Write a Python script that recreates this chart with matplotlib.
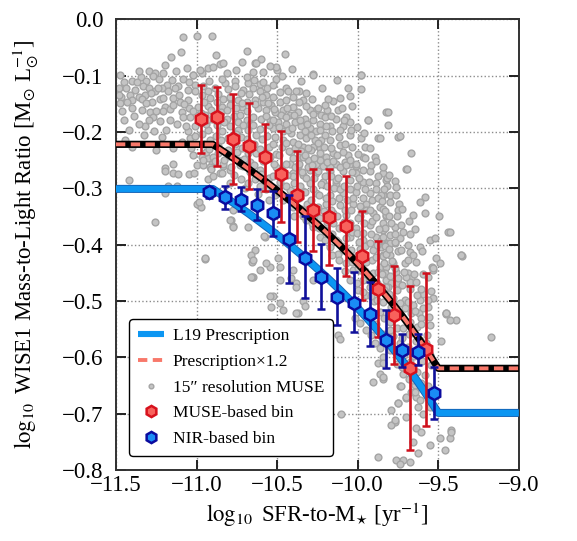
import numpy as np
import matplotlib
matplotlib.use("Agg")
import matplotlib.pyplot as plt
import matplotlib.patheffects as pe
from matplotlib.lines import Line2D
from matplotlib.ticker import FuncFormatter

plt.rcParams["font.family"] = ["Liberation Serif", "DejaVu Serif"]
plt.rcParams["mathtext.fontset"] = "stix"

# L19 prescription knots (log sSFR, linear M/L); the x1.2 curve scales these
presc_ssfr = [-11.5, -10.9, -9.5, -9.0]
presc_ml = [0.5, 0.5, 0.2, 0.2]
presc_scale = 1.2

# 15" resolution MUSE pixels (log sSFR, log M/L)
muse_points = [
    (-11.085, -0.031), (-10.998, -0.029), (-10.901, -0.029), (-11.095, -0.057), (-11.157, -0.066),
    (-10.688, -0.056), (-10.719, -0.076), (-10.857, -0.080), (-10.930, -0.087), (-10.967, -0.095),
    (-11.020, -0.099), (-11.298, -0.091), (-11.256, -0.096), (-11.211, -0.095), (-11.343, -0.102),
    (-11.314, -0.109), (-11.273, -0.100), (-11.236, -0.106), (-11.153, -0.108), (-11.085, -0.105),
    (-11.045, -0.112), (-11.008, -0.117), (-11.112, -0.118), (-11.184, -0.116), (-11.401, -0.109),
    (-11.453, -0.111), (-11.484, -0.122), (-11.438, -0.122), (-11.384, -0.125), (-11.335, -0.118),
    (-11.298, -0.122), (-11.256, -0.127), (-11.215, -0.122), (-11.318, -0.134), (-11.360, -0.137),
    (-11.411, -0.134), (-11.467, -0.138), (-11.473, -0.149), (-11.401, -0.143), (-11.339, -0.142),
    (-11.277, -0.146), (-11.225, -0.142), (-11.143, -0.140), (-11.101, -0.146), (-11.050, -0.143),
    (-11.008, -0.128), (-10.967, -0.134), (-10.915, -0.140), (-10.864, -0.132), (-10.822, -0.113),
    (-10.760, -0.110), (-10.709, -0.125), (-10.678, -0.113), (-10.791, -0.140), (-10.740, -0.143),
    (-10.688, -0.146), (-11.194, -0.155), (-11.211, -0.162), (-11.163, -0.160), (-11.091, -0.164),
    (-11.045, -0.158), (-10.992, -0.156), (-10.926, -0.154), (-10.843, -0.156), (-10.791, -0.152),
    (-10.719, -0.156), (-11.287, -0.164), (-11.273, -0.173), (-11.081, -0.173), (-11.039, -0.174),
    (-10.946, -0.170), (-10.905, -0.177), (-10.812, -0.177), (-10.740, -0.182), (-10.688, -0.179),
    (-11.318, -0.190), (-11.215, -0.208), (-11.050, -0.199), (-11.008, -0.190), (-10.926, -0.196),
    (-10.843, -0.199), (-10.740, -0.196), (-10.678, -0.196), (-11.442, -0.214), (-11.039, -0.211),
    (-10.967, -0.244), (-10.926, -0.247), (-10.864, -0.238), (-10.802, -0.232), (-10.905, -0.256),
    (-10.833, -0.261), (-10.998, -0.258), (-10.957, -0.258), (-11.143, -0.256), (-11.194, -0.264),
    (-10.740, -0.250), (-10.709, -0.261), (-10.678, -0.238),
    (-10.638, -0.077), (-10.597, -0.071), (-10.586, -0.093), (-10.508, -0.105), (-10.499, -0.090),
    (-10.276, -0.097), (-9.977, -0.099), (-9.981, -0.124), (-10.363, -0.127), (-10.152, -0.145),
    (-10.111, -0.139), (-10.049, -0.136), (-10.032, -0.154), (-10.256, -0.161), (-10.225, -0.170),
    (-10.189, -0.161), (-10.204, -0.174), (-10.132, -0.177), (-10.070, -0.174), (-10.049, -0.183),
    (-10.090, -0.190), (-10.173, -0.189), (-10.111, -0.196), (-10.049, -0.205), (-9.935, -0.179),
    (-9.977, -0.211), (-9.956, -0.226), (-9.873, -0.211), (-9.822, -0.164), (-9.894, -0.244),
    (-9.966, -0.245), (-10.152, -0.238), (-10.111, -0.223), (-10.059, -0.241), (-10.049, -0.256),
    (-10.008, -0.261), (-10.225, -0.214), (-10.276, -0.226), (-10.194, -0.244), (-10.132, -0.256),
    (-10.080, -0.253),
    (-10.648, -0.122), (-10.607, -0.128), (-10.566, -0.134), (-10.524, -0.137), (-10.638, -0.143),
    (-10.586, -0.146), (-10.535, -0.152), (-10.483, -0.146), (-10.442, -0.143), (-10.400, -0.155),
    (-10.617, -0.158), (-10.566, -0.161), (-10.514, -0.164), (-10.462, -0.161), (-10.421, -0.170),
    (-10.369, -0.164), (-10.328, -0.176), (-10.276, -0.179), (-10.648, -0.173), (-10.597, -0.176),
    (-10.545, -0.179), (-10.493, -0.182), (-10.442, -0.185), (-10.390, -0.182), (-10.349, -0.190),
    (-10.297, -0.193), (-10.256, -0.199), (-10.524, -0.193), (-10.462, -0.199), (-10.411, -0.202),
    (-10.359, -0.205), (-10.318, -0.211), (-10.266, -0.214), (-10.462, -0.214), (-10.400, -0.217),
    (-10.338, -0.226), (-10.287, -0.232), (-10.235, -0.229), (-10.411, -0.235), (-10.359, -0.244),
    (-10.307, -0.250), (-10.256, -0.256), (-10.214, -0.261), (-10.421, -0.256), (-10.369, -0.261),
    (-10.173, -0.214), (-10.204, -0.205), (-10.235, -0.185), (-10.297, -0.161), (-10.338, -0.143),
    (-10.400, -0.273), (-10.338, -0.276), (-10.256, -0.273), (-10.173, -0.270), (-10.090, -0.270),
    (-10.008, -0.273), (-9.925, -0.270), (-9.842, -0.273), (-10.297, -0.291), (-10.214, -0.288),
    (-10.132, -0.291), (-10.049, -0.285), (-9.966, -0.288), (-9.884, -0.291), (-9.822, -0.285),
    (-10.256, -0.309), (-10.173, -0.312), (-10.090, -0.309), (-10.008, -0.306), (-9.925, -0.309),
    (-9.842, -0.312), (-10.194, -0.327), (-10.111, -0.330), (-10.028, -0.327), (-9.946, -0.327),
    (-9.863, -0.333), (-10.152, -0.344), (-10.070, -0.347), (-9.987, -0.350), (-9.904, -0.344),
    (-9.822, -0.350), (-10.090, -0.368), (-10.008, -0.371), (-9.925, -0.365), (-9.842, -0.374),
    (-10.049, -0.386), (-9.966, -0.392), (-9.884, -0.386), (-9.822, -0.398), (-9.987, -0.407),
    (-9.904, -0.410), (-9.842, -0.418), (-9.946, -0.430), (-9.863, -0.439), (-9.904, -0.451),
    (-9.822, -0.463), (-9.842, -0.475),
    (-10.462, -0.321), (-10.400, -0.333), (-10.338, -0.350), (-10.276, -0.368), (-10.235, -0.386),
    (-10.173, -0.404), (-10.121, -0.416), (-10.070, -0.433), (-10.028, -0.445), (-9.966, -0.463),
    (-9.925, -0.475), (-10.421, -0.303), (-10.359, -0.315), (-10.307, -0.339), (-10.256, -0.356),
    (-10.194, -0.374), (-10.132, -0.392), (-10.090, -0.410), (-10.049, -0.421), (-9.987, -0.445),
    (-10.638, -0.410), (-10.576, -0.386), (-10.607, -0.445), (-10.648, -0.457), (-10.545, -0.439),
    (-10.493, -0.424), (-10.483, -0.463), (-10.524, -0.492), (-10.535, -0.510), (-10.380, -0.469),
    (-10.400, -0.445), (-10.276, -0.463), (-10.338, -0.501), (-10.369, -0.522), (-10.462, -0.516),
    (-10.659, -0.418),
    (-11.422, -0.286), (-11.194, -0.308), (-11.178, -0.296), (-11.122, -0.296), (-10.998, -0.327),
    (-10.971, -0.334), (-11.260, -0.359), (-10.946, -0.426), (-10.785, -0.356), (-10.771, -0.367),
    (-10.678, -0.368), (-10.657, -0.430), (-10.657, -0.457), (-11.194, -0.270), (-11.143, -0.273),
    (-11.112, -0.275), (-11.045, -0.275), (-10.926, -0.284), (-10.895, -0.278),
    (-11.016, -0.273), (-10.983, -0.324), (-10.793, -0.356), (-10.776, -0.369), (-10.582, -0.385),
    (-10.648, -0.427), (-10.948, -0.424), (-10.659, -0.457), (-10.570, -0.433), (-10.483, -0.439),
    (-10.411, -0.460), (-10.380, -0.475), (-10.541, -0.491), (-10.483, -0.504), (-10.380, -0.522),
    (-10.328, -0.509), (-10.772, -0.339),
    (-11.020, -0.241), (-10.958, -0.250), (-10.896, -0.244), (-10.834, -0.256), (-10.772, -0.241),
    (-10.731, -0.259), (-10.669, -0.253), (-10.607, -0.268), (-10.545, -0.244), (-10.504, -0.262),
    (-10.442, -0.256), (-10.400, -0.279), (-10.338, -0.244), (-10.297, -0.268), (-10.235, -0.250),
    (-10.173, -0.262), (-10.132, -0.285), (-10.917, -0.262), (-10.855, -0.273), (-10.793, -0.268),
    (-10.790, -0.290), (-10.700, -0.300), (-10.620, -0.310), (-10.550, -0.320), (-10.500, -0.300),
    (-11.020, -0.099), (-10.979, -0.090), (-10.896, -0.084), (-10.834, -0.078), (-10.628, -0.078),
    (-10.504, -0.084), (-10.380, -0.128), (-10.276, -0.099), (-10.131, -0.108), (-9.976, -0.099),
    (-9.811, -0.164), (-9.935, -0.179), (-9.863, -0.211), (-9.749, -0.208), (-9.697, -0.265),
    (-9.584, -0.315), (-9.439, -0.377), (-9.356, -0.418), (-9.511, -0.424), (-9.615, -0.404),
    (-9.811, -0.188), (-9.739, -0.207), (-9.671, -0.238), (-9.693, -0.265), (-9.818, -0.281),
    (-9.770, -0.287), (-9.818, -0.296), (-9.764, -0.297), (-9.853, -0.312), (-9.801, -0.324),
    (-9.743, -0.328), (-9.749, -0.339), (-9.842, -0.336), (-9.822, -0.347), (-9.656, -0.347),
    (-9.615, -0.324), (-9.584, -0.344), (-9.495, -0.350), (-9.429, -0.377), (-9.350, -0.420),
    (-9.553, -0.391), (-9.522, -0.388), (-9.842, -0.362), (-9.832, -0.371), (-9.770, -0.368),
    (-9.729, -0.365), (-9.801, -0.383), (-9.739, -0.389), (-9.853, -0.392), (-9.811, -0.398),
    (-9.770, -0.398), (-9.687, -0.401), (-9.677, -0.413), (-9.656, -0.418), (-9.801, -0.418),
    (-9.842, -0.421), (-9.822, -0.439), (-9.780, -0.433), (-9.708, -0.433), (-9.832, -0.451),
    (-9.760, -0.448), (-9.687, -0.451), (-9.667, -0.460), (-9.677, -0.466), (-9.739, -0.472),
    (-9.791, -0.469), (-9.487, -0.432), (-9.538, -0.439), (-9.532, -0.445), (-9.543, -0.482),
    (-9.532, -0.495), (-9.563, -0.498), (-9.450, -0.524), (-9.619, -0.522), (-9.708, -0.498),
    (-9.811, -0.475),
    (-10.121, -0.561), (-10.111, -0.567), (-10.018, -0.531), (-9.987, -0.540), (-9.946, -0.552),
    (-9.915, -0.561), (-9.894, -0.575), (-9.863, -0.584), (-9.842, -0.599), (-9.873, -0.611),
    (-9.863, -0.629), (-9.842, -0.638), (-9.904, -0.644), (-9.739, -0.652), (-9.749, -0.682),
    (-9.698, -0.673), (-9.667, -0.661), (-9.636, -0.670), (-9.625, -0.688), (-9.646, -0.649),
    (-9.584, -0.632), (-9.543, -0.614), (-9.574, -0.575), (-9.553, -0.543), (-9.449, -0.522),
    (-9.481, -0.572), (-9.419, -0.729), (-9.429, -0.744), (-9.491, -0.744), (-9.553, -0.756),
    (-9.636, -0.726), (-9.656, -0.750), (-9.625, -0.771), (-9.677, -0.786), (-9.718, -0.783),
    (-9.760, -0.783), (-9.739, -0.789), (-9.770, -0.715), (-9.791, -0.720), (-9.873, -0.777),
    (-10.101, -0.700), (-9.171, -0.564), (-9.460, -0.765), (-9.388, -0.534),
    (-9.853, -0.404), (-9.801, -0.398), (-9.822, -0.416), (-9.770, -0.395), (-9.698, -0.457),
    (-9.636, -0.466), (-9.749, -0.469), (-9.822, -0.475), (-9.532, -0.442), (-9.594, -0.487),
    (-9.615, -0.498), (-9.563, -0.510), (-9.656, -0.507), (-9.739, -0.504), (-9.780, -0.495),
    (-9.605, -0.531), (-9.677, -0.537), (-9.780, -0.563), (-9.853, -0.563), (-9.615, -0.569),
    (-9.739, -0.575), (-9.801, -0.587), (-9.842, -0.635), (-9.718, -0.629), (-9.656, -0.640),
    (-9.698, -0.670), (-9.615, -0.676), (-9.749, -0.682), (-9.791, -0.694), (-9.594, -0.700),
    (-9.698, -0.706), (-9.770, -0.712), (-9.419, -0.732), (-9.605, -0.732), (-9.450, -0.522),
    (-9.429, -0.534), (-9.357, -0.418), (-9.842, -0.611), (-9.729, -0.652),
    (-9.900, -0.500), (-9.860, -0.520), (-9.950, -0.490), (-10.000, -0.480),
    # dense core of the sequence
    (-10.962, -0.118), (-10.951, -0.146), (-10.973, -0.167), (-10.944, -0.185), (-10.968, -0.203),
    (-10.955, -0.222), (-10.941, -0.236), (-10.921, -0.109), (-10.928, -0.128), (-10.913, -0.161),
    (-10.934, -0.179), (-10.917, -0.214), (-10.925, -0.231), (-10.909, -0.266), (-10.884, -0.121),
    (-10.872, -0.147), (-10.889, -0.169), (-10.876, -0.188), (-10.881, -0.207), (-10.869, -0.224),
    (-10.886, -0.252), (-10.843, -0.106), (-10.836, -0.141), (-10.848, -0.165), (-10.831, -0.183),
    (-10.845, -0.215), (-10.827, -0.249), (-10.839, -0.272), (-10.803, -0.124), (-10.795, -0.137),
    (-10.808, -0.161), (-10.792, -0.190), (-10.806, -0.211), (-10.798, -0.243), (-10.788, -0.262),
    (-10.764, -0.119), (-10.757, -0.158), (-10.769, -0.172), (-10.752, -0.203), (-10.761, -0.221),
    (-10.748, -0.235), (-10.766, -0.276), (-10.723, -0.131), (-10.716, -0.148), (-10.729, -0.169),
    (-10.712, -0.188), (-10.725, -0.209), (-10.718, -0.228), (-10.707, -0.248), (-10.721, -0.283),
    (-10.684, -0.102), (-10.676, -0.133), (-10.689, -0.162), (-10.671, -0.185), (-10.686, -0.213),
    (-10.679, -0.226), (-10.668, -0.271), (-10.682, -0.291), (-10.643, -0.108), (-10.636, -0.151),
    (-10.648, -0.188), (-10.632, -0.205), (-10.645, -0.221), (-10.629, -0.238), (-10.641, -0.259),
    (-10.634, -0.284), (-10.603, -0.115), (-10.596, -0.138), (-10.607, -0.195), (-10.592, -0.212),
    (-10.604, -0.231), (-10.589, -0.251), (-10.598, -0.274), (-10.608, -0.296), (-10.562, -0.121),
    (-10.557, -0.149), (-10.567, -0.171), (-10.552, -0.188), (-10.564, -0.207), (-10.549, -0.226),
    (-10.559, -0.247), (-10.553, -0.281), (-10.566, -0.301), (-10.523, -0.116), (-10.516, -0.159),
    (-10.528, -0.179), (-10.512, -0.208), (-10.525, -0.221), (-10.509, -0.239), (-10.519, -0.256),
    (-10.527, -0.279), (-10.514, -0.311), (-10.484, -0.129), (-10.476, -0.169), (-10.488, -0.191),
    (-10.472, -0.226), (-10.486, -0.241), (-10.469, -0.268), (-10.479, -0.289), (-10.487, -0.308),
    (-10.443, -0.121), (-10.436, -0.157), (-10.447, -0.173), (-10.432, -0.196), (-10.445, -0.219),
    (-10.429, -0.234), (-10.439, -0.277), (-10.447, -0.296), (-10.433, -0.316), (-10.402, -0.138),
    (-10.395, -0.169), (-10.407, -0.193), (-10.391, -0.229), (-10.404, -0.247), (-10.388, -0.262),
    (-10.398, -0.291), (-10.406, -0.312), (-10.393, -0.349), (-10.363, -0.146), (-10.356, -0.178),
    (-10.368, -0.221), (-10.352, -0.233), (-10.365, -0.256), (-10.348, -0.271), (-10.358, -0.296),
    (-10.367, -0.318), (-10.354, -0.336), (-10.322, -0.153), (-10.315, -0.186), (-10.327, -0.199),
    (-10.311, -0.229), (-10.324, -0.241), (-10.308, -0.262), (-10.318, -0.281), (-10.326, -0.306),
    (-10.313, -0.328), (-10.321, -0.357), (-10.283, -0.141), (-10.276, -0.168), (-10.288, -0.206),
    (-10.272, -0.247), (-10.285, -0.259), (-10.269, -0.281), (-10.279, -0.301), (-10.287, -0.321),
    (-10.274, -0.343), (-10.282, -0.362), (-10.243, -0.158), (-10.236, -0.196), (-10.248, -0.219),
    (-10.232, -0.238), (-10.245, -0.269), (-10.229, -0.293), (-10.239, -0.311), (-10.247, -0.334),
    (-10.234, -0.352), (-10.242, -0.371), (-10.202, -0.152), (-10.195, -0.189), (-10.207, -0.226),
    (-10.191, -0.253), (-10.204, -0.279), (-10.188, -0.296), (-10.198, -0.318), (-10.206, -0.341),
    (-10.193, -0.359), (-10.201, -0.392), (-10.163, -0.171), (-10.156, -0.199), (-10.168, -0.229),
    (-10.152, -0.251), (-10.165, -0.278), (-10.148, -0.299), (-10.158, -0.322), (-10.167, -0.339),
    (-10.154, -0.361), (-10.162, -0.381), (-10.157, -0.418), (-10.122, -0.161), (-10.115, -0.208),
    (-10.127, -0.241), (-10.111, -0.262), (-10.124, -0.281), (-10.108, -0.302), (-10.118, -0.318),
    (-10.126, -0.349), (-10.113, -0.371), (-10.121, -0.396), (-10.116, -0.428), (-10.083, -0.179),
    (-10.076, -0.221), (-10.088, -0.236), (-10.072, -0.259), (-10.085, -0.296), (-10.069, -0.321),
    (-10.079, -0.338), (-10.087, -0.359), (-10.074, -0.389), (-10.082, -0.402), (-10.077, -0.446),
    (-10.043, -0.196), (-10.036, -0.226), (-10.048, -0.249), (-10.032, -0.271), (-10.045, -0.301),
    (-10.029, -0.318), (-10.039, -0.339), (-10.047, -0.362), (-10.034, -0.378), (-10.042, -0.409),
    (-10.037, -0.431), (-10.045, -0.462), (-10.002, -0.191), (-9.995, -0.239), (-10.007, -0.256),
    (-9.991, -0.281), (-10.004, -0.296), (-9.988, -0.331), (-9.998, -0.352), (-10.006, -0.379),
    (-9.993, -0.396), (-10.001, -0.421), (-9.996, -0.442), (-10.004, -0.468), (-9.963, -0.202),
    (-9.956, -0.246), (-9.968, -0.268), (-9.952, -0.301), (-9.965, -0.318), (-9.948, -0.339),
    (-9.958, -0.361), (-9.967, -0.379), (-9.954, -0.402), (-9.962, -0.418), (-9.957, -0.446),
    (-9.965, -0.484), (-9.922, -0.229), (-9.915, -0.258), (-9.927, -0.288), (-9.911, -0.321),
    (-9.924, -0.339), (-9.908, -0.358), (-9.918, -0.381), (-9.926, -0.398), (-9.913, -0.428),
    (-9.921, -0.463), (-9.916, -0.492), (-9.924, -0.521), (-9.883, -0.251), (-9.876, -0.279),
    (-9.888, -0.302), (-9.872, -0.318), (-9.885, -0.351), (-9.869, -0.372), (-9.879, -0.401),
    (-9.887, -0.422), (-9.874, -0.448), (-9.882, -0.469), (-9.877, -0.498), (-9.885, -0.541),
    (-9.843, -0.262), (-9.836, -0.301), (-9.848, -0.323), (-9.832, -0.341), (-9.845, -0.386),
    (-9.829, -0.402), (-9.839, -0.432), (-9.847, -0.452), (-9.834, -0.481), (-9.842, -0.502),
    (-9.837, -0.531), (-9.845, -0.558), (-9.803, -0.276), (-9.796, -0.311), (-9.808, -0.349),
    (-9.792, -0.362), (-9.805, -0.408), (-9.788, -0.429), (-9.798, -0.456), (-9.806, -0.488),
    (-9.793, -0.511), (-9.801, -0.538), (-9.796, -0.552), (-9.804, -0.571), (-9.763, -0.311),
    (-9.756, -0.349), (-9.768, -0.381), (-9.752, -0.412), (-9.765, -0.441), (-9.748, -0.459),
    (-9.758, -0.481), (-9.767, -0.521), (-9.754, -0.548), (-9.762, -0.591), (-9.757, -0.612),
    (-9.723, -0.336), (-9.716, -0.378), (-9.728, -0.409), (-9.712, -0.448), (-9.725, -0.471),
    (-9.708, -0.512), (-9.718, -0.549), (-9.727, -0.566), (-9.714, -0.596), (-9.722, -0.618),
    (-9.683, -0.358), (-9.676, -0.381), (-9.688, -0.428), (-9.672, -0.479), (-9.685, -0.502),
    (-9.669, -0.522), (-9.679, -0.558), (-9.687, -0.581), (-9.674, -0.609), (-9.682, -0.638),
    (-9.643, -0.372), (-9.636, -0.431), (-9.648, -0.452), (-9.632, -0.489), (-9.645, -0.518),
    (-9.629, -0.546), (-9.639, -0.571), (-9.647, -0.598), (-9.634, -0.627), (-9.642, -0.661),
    (-9.603, -0.411), (-9.596, -0.452), (-9.608, -0.478), (-9.592, -0.512), (-9.605, -0.541),
    (-9.588, -0.582), (-9.598, -0.606), (-9.606, -0.646), (-9.563, -0.458), (-9.556, -0.528),
    (-9.568, -0.561), (-9.552, -0.596), (-9.565, -0.652), (-9.548, -0.688),
    # low-sSFR clump
    (-11.482, -0.135), (-11.465, -0.162), (-11.448, -0.178), (-11.431, -0.147), (-11.418, -0.196),
    (-11.402, -0.158), (-11.389, -0.171), (-11.372, -0.112), (-11.358, -0.186), (-11.341, -0.161),
    (-11.327, -0.205), (-11.312, -0.148), (-11.296, -0.179), (-11.281, -0.131), (-11.266, -0.198),
    (-11.252, -0.163), (-11.238, -0.122), (-11.224, -0.181), (-11.206, -0.139), (-11.192, -0.196),
    (-11.178, -0.128), (-11.165, -0.178), (-11.149, -0.152), (-11.134, -0.121), (-11.121, -0.186),
    (-11.107, -0.134), (-11.093, -0.218), (-11.078, -0.151), (-11.064, -0.189), (-11.052, -0.126),
    (-11.036, -0.228), (-11.024, -0.163), (-11.011, -0.207), (-11.472, -0.098), (-11.356, -0.091),
    (-11.193, -0.081), (-11.128, -0.092), (-11.062, -0.086), (-11.398, -0.227), (-11.252, -0.232),
    (-11.148, -0.229),
    # upper envelope
    (-10.652, -0.094), (-10.588, -0.112), (-10.541, -0.082), (-10.472, -0.101), (-10.431, -0.128),
    (-10.408, -0.088), (-10.352, -0.109), (-10.318, -0.131), (-10.221, -0.122), (-10.183, -0.141),
    (-10.097, -0.158), (-10.058, -0.121), (-10.451, -0.061), (-10.752, -0.089), (-10.813, -0.095),
    (-10.882, -0.063),
]

# Binned medians with 16-84 percentile ranges
muse_bin_ssfr = [-10.975, -10.875, -10.775, -10.675, -10.575, -10.475, -10.375, -10.275,
                 -10.175, -10.075, -9.975, -9.875, -9.775, -9.675, -9.575]
muse_bin_ml = [-0.176, -0.174, -0.212, -0.225, -0.244, -0.275, -0.312, -0.339,
               -0.351, -0.367, -0.420, -0.478, -0.525, -0.620, -0.586]
muse_bin_lo = [-0.237, -0.260, -0.292, -0.302, -0.304, -0.360, -0.395, -0.412,
               -0.436, -0.456, -0.498, -0.564, -0.612, -0.765, -0.722]
muse_bin_hi = [-0.117, -0.120, -0.133, -0.149, -0.185, -0.198, -0.234, -0.266,
               -0.266, -0.278, -0.340, -0.394, -0.438, -0.474, -0.450]

nir_bin_ssfr = [-10.925, -10.825, -10.725, -10.625, -10.525, -10.425, -10.325, -10.225,
                -10.125, -10.025, -9.925, -9.825, -9.725, -9.625, -9.525]
nir_bin_ml = [-0.307, -0.316, -0.320, -0.329, -0.343, -0.390, -0.424, -0.457,
              -0.493, -0.504, -0.523, -0.569, -0.588, -0.590, -0.664]
nir_bin_lo = [-0.318, -0.336, -0.340, -0.356, -0.384, -0.469, -0.495, -0.515,
              -0.543, -0.556, -0.580, -0.620, -0.617, -0.614, -0.709]
nir_bin_hi = [-0.298, -0.296, -0.297, -0.302, -0.305, -0.311, -0.350, -0.399,
              -0.441, -0.449, -0.466, -0.516, -0.558, -0.559, -0.617]

fig = plt.figure(figsize=(5.77, 5.41), dpi=100)
ax = fig.add_axes([0.201, 0.1316, 0.698, 0.8325])

grey_kw = dict(ls="none", marker="o", ms=4.9, mfc="#c4c4c4", mec="#a4a4a4", mew=1.0)
blue_kw = dict(color="#0c96f2", lw=4.4, solid_capstyle="butt")
salmon_kw = dict(color="#f8786a", lw=2.8, dashes=(2.4, 1.4))
red_bin_kw = dict(marker="h", ms=9.5, mfc="#f8625c", mec="#d7111d", mew=1.8)
blue_bin_kw = dict(marker="h", ms=9.5, mfc="#1a8cf5", mec="#0a0a9e", mew=1.8)

# scatter of resolved pixels
mx, my = zip(*muse_points)
ax.plot(mx, my, zorder=2, **grey_kw)

# prescription curves (linear in M/L between knots)
grid = np.linspace(presc_ssfr[0], presc_ssfr[-1], 600)
ml_lin = np.interp(grid, presc_ssfr, presc_ml)
ax.plot(grid, np.log10(ml_lin), zorder=3,
        path_effects=[pe.Stroke(linewidth=5.8, foreground="#1565b8"), pe.Normal()], **blue_kw)
ax.plot(grid, np.log10(presc_scale * ml_lin), color="black", lw=5.2, zorder=3)
ax.plot(grid, np.log10(presc_scale * ml_lin), zorder=3.1, **salmon_kw)

# binned results
muse_err = [np.array(muse_bin_ml) - np.array(muse_bin_lo),
            np.array(muse_bin_hi) - np.array(muse_bin_ml)]
ax.errorbar(muse_bin_ssfr, muse_bin_ml, yerr=muse_err, ls="none", ecolor="#cf101c",
            elinewidth=1.9, capsize=3.2, capthick=1.6, zorder=4, **red_bin_kw)
nir_err = [np.array(nir_bin_ml) - np.array(nir_bin_lo),
           np.array(nir_bin_hi) - np.array(nir_bin_ml)]
ax.errorbar(nir_bin_ssfr, nir_bin_ml, yerr=nir_err, ls="none", ecolor="#10109a",
            elinewidth=1.9, capsize=3.2, capthick=1.6, zorder=5, **blue_bin_kw)

ax.set_xlim(-11.5, -9.0)
ax.set_ylim(-0.8, 0.0)
ax.set_xticks(np.arange(-11.5, -8.99, 0.5))
ax.set_yticks(np.arange(-0.8, 0.01, 0.1))


def fmt(v, pos):
    if abs(v) < 1e-9:
        return "0.0"
    return ("%.1f" % v).replace("-", "\u2212")


ax.xaxis.set_major_formatter(FuncFormatter(fmt))
ax.yaxis.set_major_formatter(FuncFormatter(fmt))
ax.grid(True, ls=":", color="#8c8c8c", lw=1.0, zorder=0)
ax.set_axisbelow(True)
ax.tick_params(direction="in", length=7, width=1.4, labelsize=16.5, top=True, right=True,
               color="#222222")
ax.tick_params(axis="y", pad=9)
for s in ax.spines.values():
    s.set_linewidth(1.4)
    s.set_color("#333333")

ax.set_xlabel(r"$\log_{10}$ SFR-to-M$_{\star}$ [yr$^{-1}$]", fontsize=16.5, labelpad=4)
ax.set_ylabel(r"$\log_{10}$ WISE1 Mass-to-Light Ratio [M$_{\odot}$ L$_{\odot}^{-1}$]",
              fontsize=16.5, labelpad=16)

handles = [
    Line2D([], [], **blue_kw),
    Line2D([], [], **salmon_kw),
    Line2D([], [], ls="none", marker="o", ms=4.0, mfc="#c4c4c4", mec="#a4a4a4", mew=1.0),
    Line2D([], [], ls="none", **red_bin_kw),
    Line2D([], [], ls="none", **blue_bin_kw),
]
labels = ["L19 Prescription", "Prescription\u00d71.2", "15\u2033 resolution MUSE",
          "MUSE-based bin", "NIR-based bin"]
leg = ax.legend(handles, labels, loc="lower left", bbox_to_anchor=(0.012, 0.012),
                fontsize=12.5, handlelength=1.5, handletextpad=0.5, labelspacing=0.55,
                borderpad=0.5, frameon=True, fancybox=True, framealpha=1.0,
                edgecolor="black", markerscale=0.85)
leg.get_frame().set_linewidth(1.0)
leg.set_zorder(10)

fig.savefig("out.png", dpi=100)
